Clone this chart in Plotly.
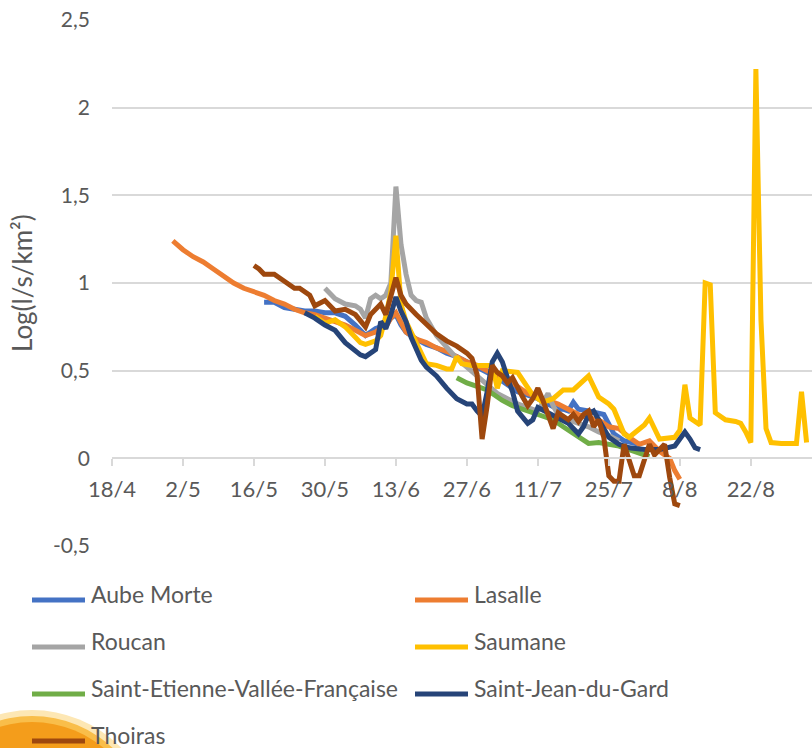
import plotly.graph_objects as go

YEAR = 2019

SERIES_NAMES = [
    "Aube Morte", "Lasalle", "Roucan", "Saumane",
    "Saint-Etienne-Vallée-Française", "Saint-Jean-du-Gard", "Thoiras",
]
SERIES_COLORS = ["#4472C4", "#ED7D31", "#A5A5A5", "#FFC000",
                 "#70AD47", "#264478", "#9E480E"]

# Daily specific discharge, log10(l/s/km²)
aube_morte_days = ["05-18", "05-20", "05-22", "05-24", "05-26", "05-28", "05-30", "06-01",
                   "06-03", "06-05", "06-07", "06-09", "06-11", "06-12", "06-13", "06-14",
                   "06-15", "06-17", "06-19", "06-21", "06-23", "06-25", "06-27", "06-29",
                   "07-01", "07-03", "07-05", "07-07", "07-09", "07-11", "07-13", "07-15",
                   "07-16", "07-17", "07-18", "07-19", "07-21", "07-23", "07-24", "07-26",
                   "07-28", "07-31"]
aube_morte_vals = [0.89, 0.89, 0.86, 0.85, 0.84, 0.84, 0.83, 0.83,
                   0.81, 0.76, 0.70, 0.74, 0.76, 0.80, 0.82, 0.76,
                   0.72, 0.68, 0.65, 0.63, 0.60, 0.58, 0.55, 0.52,
                   0.49, 0.46, 0.42, 0.38, 0.36, 0.34, 0.31, 0.28,
                   0.28, 0.27, 0.32, 0.28, 0.27, 0.26, 0.25, 0.14,
                   0.10, 0.08]

lasalle_days = ["04-30", "05-02", "05-04", "05-06", "05-08", "05-10", "05-12", "05-14",
                "05-16", "05-18", "05-20", "05-22", "05-24", "05-26", "05-28", "05-30",
                "06-01", "06-03", "06-05", "06-07", "06-09", "06-10", "06-11", "06-12",
                "06-13", "06-14", "06-15", "06-17", "06-19", "06-21", "06-23", "06-25",
                "06-27", "06-29", "07-01", "07-03", "07-05", "07-07", "07-09", "07-11",
                "07-13", "07-15", "07-17", "07-19", "07-21", "07-23", "07-25", "07-27",
                "07-29", "07-31", "08-02", "08-04", "08-06", "08-07", "08-08"]
lasalle_vals = [1.24, 1.19, 1.15, 1.12, 1.08, 1.04, 1.00, 0.97,
                0.95, 0.93, 0.90, 0.88, 0.85, 0.83, 0.82, 0.80,
                0.78, 0.76, 0.73, 0.70, 0.72, 0.74, 0.75, 0.80,
                0.83, 0.78, 0.72, 0.68, 0.66, 0.63, 0.61, 0.58,
                0.55, 0.53, 0.50, 0.47, 0.45, 0.41, 0.37, 0.35,
                0.33, 0.31, 0.28, 0.25, 0.23, 0.22, 0.18, 0.17,
                0.12, 0.08, 0.10, 0.04, 0.00, -0.07, -0.12]

roucan_days = ["05-30", "06-01", "06-03", "06-05", "06-06", "06-07", "06-08", "06-09",
               "06-10", "06-11", "06-12", "06-13", "06-14", "06-15", "06-16", "06-17",
               "06-18", "06-19", "06-21", "06-23", "06-25", "06-27", "06-29", "07-01",
               "07-03", "07-05", "07-07", "07-09", "07-11", "07-13", "07-14", "07-15",
               "07-17", "07-19", "07-21", "07-23", "07-25", "07-27"]
roucan_vals = [0.97, 0.91, 0.88, 0.87, 0.85, 0.80, 0.91, 0.93,
               0.91, 0.93, 1.00, 1.55, 1.22, 1.05, 0.93, 0.90,
               0.89, 0.80, 0.70, 0.63, 0.57, 0.52, 0.47, 0.42,
               0.37, 0.34, 0.31, 0.29, 0.27, 0.37, 0.30, 0.25,
               0.22, 0.20, 0.18, 0.15, 0.13, 0.10]

saumane_days = ["05-28", "05-30", "06-01", "06-03", "06-05", "06-06", "06-07", "06-09",
                "06-10", "06-11", "06-12", "06-13", "06-14", "06-15", "06-17", "06-19",
                "06-21", "06-23", "06-24", "06-25", "06-26", "06-28", "06-30", "07-02",
                "07-03", "07-04", "07-07", "07-10", "07-12", "07-14", "07-16", "07-18",
                "07-21", "07-23", "07-25", "07-26", "07-28", "07-29", "08-01", "08-02",
                "08-04", "08-06", "08-07", "08-08", "08-09", "08-10", "08-12", "08-13",
                "08-14", "08-15", "08-17", "08-19", "08-20", "08-21", "08-22", "08-23",
                "08-24", "08-25", "08-26", "08-28", "08-31", "09-01", "09-02"]
saumane_vals = [0.81, 0.77, 0.79, 0.75, 0.69, 0.66, 0.65, 0.67,
                0.70, 0.81, 0.95, 1.27, 0.88, 0.78, 0.66, 0.54,
                0.53, 0.51, 0.51, 0.58, 0.54, 0.53, 0.53, 0.53,
                0.40, 0.50, 0.49, 0.36, 0.32, 0.34, 0.39, 0.39,
                0.47, 0.35, 0.31, 0.28, 0.14, 0.12, 0.19, 0.23,
                0.11, 0.12, 0.12, 0.16, 0.42, 0.23, 0.19, 1.00,
                0.99, 0.26, 0.22, 0.21, 0.20, 0.15, 0.09, 2.22,
                0.79, 0.17, 0.09, 0.085, 0.085, 0.38, 0.09]

st_etienne_days = ["06-25", "06-27", "06-29", "07-01", "07-04", "07-06", "07-08", "07-10",
                   "07-12", "07-14", "07-16", "07-18", "07-20", "07-21", "07-23", "07-25",
                   "07-27", "07-29", "07-31", "08-02"]
st_etienne_vals = [0.46, 0.43, 0.41, 0.39, 0.33, 0.30, 0.28, 0.26,
                   0.24, 0.22, 0.18, 0.14, 0.10, 0.085, 0.09, 0.08,
                   0.07, 0.05, 0.03, 0.01]

st_jean_days = ["05-26", "05-28", "05-30", "06-01", "06-03", "06-05", "06-06", "06-07",
                "06-08", "06-09", "06-10", "06-11", "06-12", "06-13", "06-14", "06-15",
                "06-16", "06-18", "06-19", "06-21", "06-23", "06-25", "06-27", "06-28",
                "06-29", "06-30", "07-01", "07-02", "07-03", "07-04", "07-05", "07-06",
                "07-07", "07-09", "07-10", "07-11", "07-13", "07-15", "07-17", "07-19",
                "07-20", "07-21", "07-22", "07-23", "07-25", "07-27", "07-29", "08-01",
                "08-04", "08-07", "08-09", "08-10", "08-11", "08-12"]
st_jean_vals = [0.83, 0.80, 0.76, 0.73, 0.66, 0.61, 0.59, 0.58,
                0.60, 0.62, 0.78, 0.74, 0.82, 0.92, 0.84, 0.78,
                0.69, 0.56, 0.52, 0.47, 0.40, 0.34, 0.31, 0.31,
                0.27, 0.24, 0.38, 0.55, 0.60, 0.55, 0.46, 0.38,
                0.27, 0.20, 0.22, 0.29, 0.26, 0.23, 0.20, 0.14,
                0.18, 0.25, 0.27, 0.22, 0.12, 0.08, 0.06, 0.05,
                0.05, 0.07, 0.15, 0.11, 0.06, 0.05]

thoiras_days = ["05-16", "05-17", "05-18", "05-20", "05-22", "05-24", "05-25", "05-27",
                "05-28", "05-30", "06-01", "06-03", "06-05", "06-07", "06-08", "06-10",
                "06-11", "06-12", "06-13", "06-14", "06-15", "06-17", "06-19", "06-21",
                "06-23", "06-25", "06-27", "06-28", "06-29", "06-30", "07-01", "07-02",
                "07-03", "07-04", "07-05", "07-06", "07-08", "07-09", "07-10", "07-11",
                "07-12", "07-13", "07-14", "07-15", "07-16", "07-17", "07-18", "07-19",
                "07-20", "07-21", "07-22", "07-23", "07-24", "07-25", "07-26", "07-27",
                "07-28", "07-30", "07-31", "08-02", "08-03", "08-05", "08-06", "08-07",
                "08-08"]
thoiras_vals = [1.10, 1.08, 1.05, 1.05, 1.01, 0.97, 0.97, 0.93,
                0.87, 0.90, 0.84, 0.85, 0.82, 0.75, 0.82, 0.88,
                0.82, 0.93, 1.03, 0.93, 0.88, 0.82, 0.76, 0.71,
                0.67, 0.64, 0.60, 0.57, 0.48, 0.11, 0.30, 0.53,
                0.49, 0.47, 0.43, 0.46, 0.35, 0.30, 0.34, 0.40,
                0.33, 0.25, 0.17, 0.26, 0.24, 0.22, 0.25, 0.21,
                0.25, 0.27, 0.18, 0.22, 0.12, -0.10, -0.13, -0.13,
                0.08, -0.10, -0.10, 0.08, 0.02, 0.08, -0.11, -0.26,
                -0.27]

SERIES_DAYS = [aube_morte_days, lasalle_days, roucan_days, saumane_days,
               st_etienne_days, st_jean_days, thoiras_days]
SERIES_VALS = [aube_morte_vals, lasalle_vals, roucan_vals, saumane_vals,
               st_etienne_vals, st_jean_vals, thoiras_vals]

Y_TICKS = [-0.5, 0, 0.5, 1, 1.5, 2, 2.5]
Y_TICK_TEXT = ["-0,5", "0", "0,5", "1", "1,5", "2", "2,5"]
Y_TITLE = "Log(l/s/km²)"

FONT = "Lato"
TEXT_COLOR = "#595959"
GRID_COLOR = "#D9D9D9"

W, H = 812, 748
M_L, M_R, M_T, M_B = 112, 0, 20, 202
PW, PH = W - M_L - M_R, H - M_T - M_B


def px_x(x):
    return (x - M_L) / PW


def px_y(y):
    return (H - M_B - y) / PH


fig = go.Figure()

for name, color, days, vals in zip(SERIES_NAMES, SERIES_COLORS, SERIES_DAYS, SERIES_VALS):
    fig.add_trace(go.Scatter(
        x=[f"{YEAR}-{d}" for d in days], y=vals, name=name, mode="lines",
        line=dict(color=color, width=5), showlegend=False,
    ))

shapes = []
annotations = []

# warm sun decoration in the lower-left corner
for r, col in [(124, "#FDE7B4"), (118, "#F9BE4A"), (112, "#F49D1B")]:
    cx, cy = 32, 834
    shapes.append(dict(type="circle", xref="paper", yref="paper", layer="below",
                       x0=px_x(cx - r), x1=px_x(cx + r), y0=px_y(cy + r), y1=px_y(cy - r),
                       fillcolor=col, line=dict(width=0)))

# two-column legend
for i, (name, color) in enumerate(zip(SERIES_NAMES, SERIES_COLORS)):
    col, row = i % 2, i // 2
    x0 = 32 + col * 383
    yy = 600 + row * 47
    shapes.append(dict(type="line", xref="paper", yref="paper",
                       x0=px_x(x0), x1=px_x(x0 + 53), y0=px_y(yy), y1=px_y(yy),
                       line=dict(color=color, width=5)))
    annotations.append(dict(text=name, xref="paper", yref="paper",
                            x=px_x(x0 + 57), y=px_y(yy - 6), xanchor="left", yanchor="middle",
                            showarrow=False, font=dict(family=FONT, size=23, color=TEXT_COLOR)))

annotations.append(dict(text=Y_TITLE, xref="paper", yref="paper", x=px_x(22), y=px_y(283),
                        xanchor="center", yanchor="middle", textangle=-90, showarrow=False,
                        font=dict(family=FONT, size=26, color=TEXT_COLOR)))

fig.update_layout(
    width=W, height=H, autosize=False,
    margin=dict(l=M_L, r=M_R, t=M_T, b=M_B, pad=0),
    paper_bgcolor="white", plot_bgcolor="white",
    font=dict(family=FONT, color=TEXT_COLOR),
    showlegend=False,
    shapes=shapes, annotations=annotations,
    xaxis=dict(
        type="date",
        range=[f"{YEAR}-04-18", f"{YEAR}-09-03 01:40"],
        tick0=f"{YEAR}-04-18", dtick=14 * 86400000, tickformat="%-d/%-m",
        showgrid=False, zeroline=False,
        anchor="free", position=1 / 6,
        showline=True, linecolor=GRID_COLOR, linewidth=1.5,
        ticks="outside", ticklen=7, tickcolor=GRID_COLOR, tickwidth=1.5,
        tickfont=dict(family=FONT, size=22, color=TEXT_COLOR),
        ticklabelstandoff=5,
    ),
    yaxis=dict(
        range=[-0.5, 2.5], tickvals=Y_TICKS, ticktext=Y_TICK_TEXT,
        showgrid=True, gridcolor=GRID_COLOR, gridwidth=1.5,
        zeroline=False, showline=False, ticks="",
        tickfont=dict(family=FONT, size=21, color=TEXT_COLOR),
        ticklabelstandoff=21,
    ),
)

fig.write_html("out.html")
